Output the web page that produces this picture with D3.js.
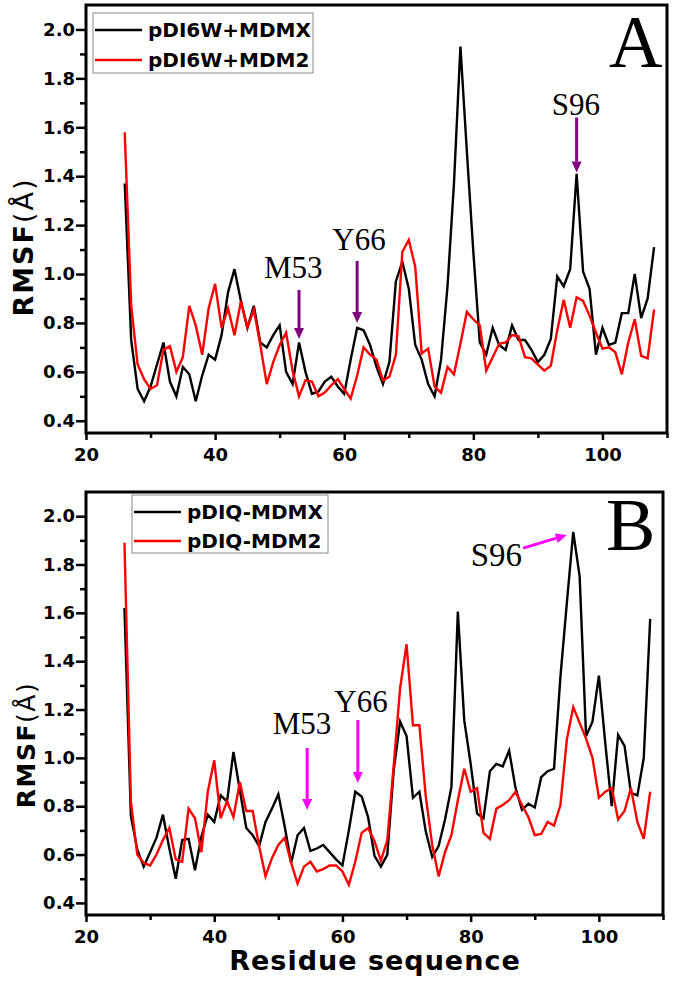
<!DOCTYPE html>
<html><head><meta charset="utf-8">
<script src="https://cdn.jsdelivr.net/npm/d3@7/dist/d3.min.js"></script>
<style>body{margin:0;background:#fff} svg{display:block}</style>
</head><body><svg id="c" width="675" height="982"></svg>
<script>
// ---------- data ----------
const residues = d3.range(26, 109);
const mdmxA = [1.37,0.73,0.53,0.48,0.54,0.63,0.72,0.56,0.50,0.62,0.59,0.48,0.585,0.67,0.65,0.75,0.925,1.02,0.89,0.78,0.87,0.72,0.70,0.75,0.79,0.60,0.55,0.72,0.60,0.51,0.52,0.56,0.58,0.54,0.51,0.65,0.78,0.77,0.71,0.62,0.55,0.64,0.97,1.05,0.94,0.71,0.65,0.55,0.50,0.65,0.95,1.37,1.93,1.50,1.09,0.72,0.67,0.78,0.71,0.69,0.79,0.73,0.73,0.69,0.64,0.67,0.735,0.99,0.95,1.02,1.41,1.01,0.94,0.67,0.78,0.71,0.72,0.84,0.84,1.0,0.82,0.90,1.11];
const mdm2A = [1.58,0.87,0.63,0.57,0.53,0.545,0.69,0.705,0.60,0.66,0.87,0.79,0.67,0.86,0.96,0.78,0.86,0.75,0.89,0.78,0.855,0.71,0.55,0.64,0.71,0.76,0.605,0.50,0.565,0.56,0.50,0.515,0.545,0.57,0.53,0.49,0.585,0.70,0.67,0.65,0.565,0.58,0.67,1.09,1.14,1.03,0.675,0.695,0.54,0.515,0.62,0.59,0.715,0.845,0.815,0.79,0.605,0.66,0.715,0.72,0.75,0.745,0.66,0.655,0.63,0.605,0.625,0.77,0.895,0.78,0.905,0.89,0.83,0.76,0.695,0.70,0.68,0.59,0.72,0.815,0.665,0.655,0.855];
const mdmxB = [1.62,0.76,0.62,0.55,0.61,0.67,0.765,0.625,0.50,0.66,0.665,0.535,0.675,0.765,0.735,0.845,0.82,1.025,0.865,0.71,0.68,0.635,0.735,0.79,0.85,0.715,0.565,0.68,0.71,0.615,0.625,0.64,0.61,0.58,0.555,0.70,0.86,0.84,0.755,0.595,0.55,0.60,0.95,1.15,1.09,0.835,0.86,0.695,0.59,0.635,0.745,0.88,1.605,1.155,0.975,0.77,0.75,0.945,0.975,0.965,1.03,0.875,0.785,0.81,0.795,0.92,0.945,0.955,1.335,1.64,1.935,1.75,1.09,1.15,1.34,1.06,0.80,1.095,1.05,0.855,0.845,1.0,1.575];
const mdm2B = [1.89,0.82,0.60,0.565,0.555,0.60,0.66,0.71,0.58,0.57,0.79,0.75,0.61,0.86,0.99,0.75,0.82,0.755,0.90,0.78,0.78,0.635,0.51,0.585,0.64,0.67,0.565,0.48,0.55,0.57,0.53,0.54,0.555,0.555,0.53,0.475,0.57,0.69,0.71,0.655,0.575,0.66,0.97,1.29,1.47,1.135,1.135,0.84,0.64,0.51,0.61,0.68,0.825,0.955,0.86,0.875,0.69,0.665,0.79,0.805,0.825,0.86,0.805,0.755,0.68,0.685,0.735,0.72,0.805,1.075,1.21,1.145,1.08,1.0,0.835,0.86,0.875,0.745,0.78,0.875,0.735,0.665,0.86];
const xTicksMajor = [20, 40, 60, 80, 100];
const xTicksMinor = [30, 50, 70, 90, 110];
const yTicksMajor = [0.4, 0.6, 0.8, 1.0, 1.2, 1.4, 1.6, 1.8, 2.0];
const yTicksMinor = [0.5, 0.7, 0.9, 1.1, 1.3, 1.5, 1.7, 1.9];
const legendA = ["pDI6W+MDMX", "pDI6W+MDM2"];
const legendB = ["pDIQ-MDMX", "pDIQ-MDM2"];
const panelLetters = ["A", "B"];
// annotations in data coordinates: label position (tx, ty), arrow (x0,y0)->(x1,y1)
const annotA = [
  {label: "M53", tx: 52.1, ty: 0.984, x0: 53, y0: 0.935, x1: 53, y1: 0.734},
  {label: "Y66", tx: 62.3, ty: 1.098, x0: 62, y0: 1.053, x1: 62, y1: 0.80},
  {label: "S96", tx: 95.9, ty: 1.652, x0: 96, y0: 1.64, x1: 96, y1: 1.415}
];
const annotB = [
  {label: "M53", tx: 53.7, ty: 1.099, x0: 54.5, y0: 1.041, x1: 54.5, y1: 0.784},
  {label: "Y66", tx: 62.9, ty: 1.19, x0: 62.4, y0: 1.157, x1: 62.4, y1: 0.896},
  {label: "S96", tx: 84.0, ty: 1.794, x0: 88.2, y0: 1.868, x1: 95.0, y1: 1.922}
];
const xDomain = [20, 110];
const yDomain = [0.35, 2.1];
const xTitle = "Residue sequence";

// ---------- drawing ----------
const svg = d3.select("#c");
const BOLD = "'DejaVu Sans', 'Liberation Sans', Arial, sans-serif";
const SERIF = "'Liberation Serif', 'Times New Roman', serif";

function drawPanel(cfg) {
  const x = d3.scaleLinear().domain(xDomain).range([cfg.left, cfg.right]);
  const y = d3.scaleLinear().domain(yDomain).range([cfg.bottom, cfg.top]);
  const g = svg.append("g");

  // lines
  const line = d3.line().x((d, i) => x(residues[i])).y(d => y(d));
  [[cfg.s1, "#000000"], [cfg.s2, "#ff0000"]].forEach(([s, c]) => {
    g.append("path").datum(s).attr("d", line).attr("fill", "none")
      .attr("stroke", c).attr("stroke-width", 2.4).attr("stroke-linejoin", "miter");
  });

  // axes
  const ax = g.append("g").attr("transform", `translate(0,${cfg.bottom})`)
    .call(d3.axisBottom(x).tickValues(xTicksMajor).tickSize(7).tickPadding(8).tickFormat(d3.format("d")));
  const axm = g.append("g").attr("transform", `translate(0,${cfg.bottom})`)
    .call(d3.axisBottom(x).tickValues(xTicksMinor).tickSize(5).tickFormat(""));
  const ay = g.append("g").attr("transform", `translate(${cfg.left},0)`)
    .call(d3.axisLeft(y).tickValues(yTicksMajor).tickSize(10).tickPadding(1).tickFormat(d3.format(".1f")));
  const aym = g.append("g").attr("transform", `translate(${cfg.left},0)`)
    .call(d3.axisLeft(y).tickValues(yTicksMinor).tickSize(6).tickFormat(""));
  [ax, axm, ay, aym].forEach(a => {
    a.select(".domain").remove();
    a.selectAll(".tick line").attr("stroke", "#000").attr("stroke-width", 2.5);
    a.selectAll(".tick text").attr("fill", "#000").attr("font-family", BOLD)
      .attr("font-weight", "bold").attr("font-size", 18);
  });

  // frame
  g.append("rect").attr("x", cfg.left).attr("y", cfg.top)
    .attr("width", cfg.right - cfg.left).attr("height", cfg.bottom - cfg.top)
    .attr("fill", "none").attr("stroke", "#000").attr("stroke-width", 3);

  // y title
  const yt = g.append("text")
    .attr("transform", `translate(${cfg.ylabX},${cfg.ylabY}) rotate(-90)`)
    .attr("text-anchor", "middle").attr("font-family", BOLD)
    .attr("font-size", cfg.ylabSize).attr("letter-spacing", cfg.ylabSpacing).attr("fill", "#000");
  yt.append("tspan").attr("font-weight", "bold").text("RMSF");
  yt.append("tspan").attr("font-weight", "normal").text("(Å)");

  // legend
  const lg = g.append("g");
  lg.append("rect").attr("x", cfg.leg.x).attr("y", cfg.leg.y).attr("width", cfg.leg.w).attr("height", cfg.leg.h)
    .attr("fill", "#fff").attr("stroke", "#8a8a8a").attr("stroke-width", 1);
  cfg.legend.forEach((t, i) => {
    const ly = cfg.leg.y + cfg.leg.row0 + i * cfg.leg.dy;
    lg.append("line").attr("x1", cfg.leg.x + 2).attr("x2", cfg.leg.x + cfg.leg.lineW)
      .attr("y1", ly).attr("y2", ly).attr("stroke", i === 0 ? "#000" : "#ff0000").attr("stroke-width", 2.4);
    lg.append("text").attr("x", cfg.leg.x + cfg.leg.lineW + 6).attr("y", ly + 7)
      .attr("font-family", BOLD).attr("font-weight", "bold").attr("font-size", 20).attr("fill", "#000").text(t);
  });

  // panel letter
  g.append("text").attr("x", cfg.letterX).attr("y", cfg.letterY).attr("font-family", SERIF)
    .attr("font-size", 74).attr("fill", "#000").text(cfg.letter);

  // annotations
  cfg.annot.forEach(a => {
    g.append("text").attr("x", x(a.tx)).attr("y", y(a.ty)).attr("text-anchor", "middle")
      .attr("font-family", SERIF).attr("font-size", a.size || 31).attr("fill", "#000").text(a.label);
    const X0 = x(a.x0), Y0 = y(a.y0), X1 = x(a.x1), Y1 = y(a.y1);
    const L = Math.hypot(X1 - X0, Y1 - Y0), ux = (X1 - X0) / L, uy = (Y1 - Y0) / L;
    const hl = 11, hw = 5;
    const bx = X1 - ux * hl, by = Y1 - uy * hl;
    g.append("line").attr("x1", X0).attr("y1", Y0).attr("x2", bx).attr("y2", by)
      .attr("stroke", cfg.arrowColor).attr("stroke-width", 3);
    g.append("path").attr("d", `M${X1},${Y1}L${bx - uy * hw},${by + ux * hw}L${bx + uy * hw},${by - ux * hw}Z`)
      .attr("fill", cfg.arrowColor);
  });
  return {x, y, g};
}

drawPanel({
  left: 86, right: 667, top: 5, bottom: 433,
  s1: mdmxA, s2: mdm2A, legend: legendA,
  leg: {x: 93, y: 13, w: 220, h: 60, row0: 17, dy: 30, lineW: 49},
  letter: panelLetters[0], letterX: 609, letterY: 67,
  annot: annotA, arrowColor: "#800080",
  ylabX: 33, ylabY: 247, ylabSize: 27, ylabSpacing: 2
});
drawPanel({
  left: 86, right: 663, top: 492, bottom: 915,
  s1: mdmxB, s2: mdm2B, legend: legendB,
  leg: {x: 132, y: 495, w: 196, h: 58, row0: 17, dy: 29, lineW: 49},
  letter: panelLetters[1], letterX: 606, letterY: 550,
  annot: annotB.map(a => a.label === "S96" ? Object.assign({size: 33}, a) : a), arrowColor: "#ff00ff",
  ylabX: 35, ylabY: 745, ylabSize: 25, ylabSpacing: 1.5
});

// x title
svg.append("text").attr("x", 375).attr("y", 970).attr("text-anchor", "middle")
  .attr("font-family", BOLD).attr("font-weight", "bold").attr("font-size", 27)
  .attr("letter-spacing", 1).attr("fill", "#000").text(xTitle);
</script></body></html>
